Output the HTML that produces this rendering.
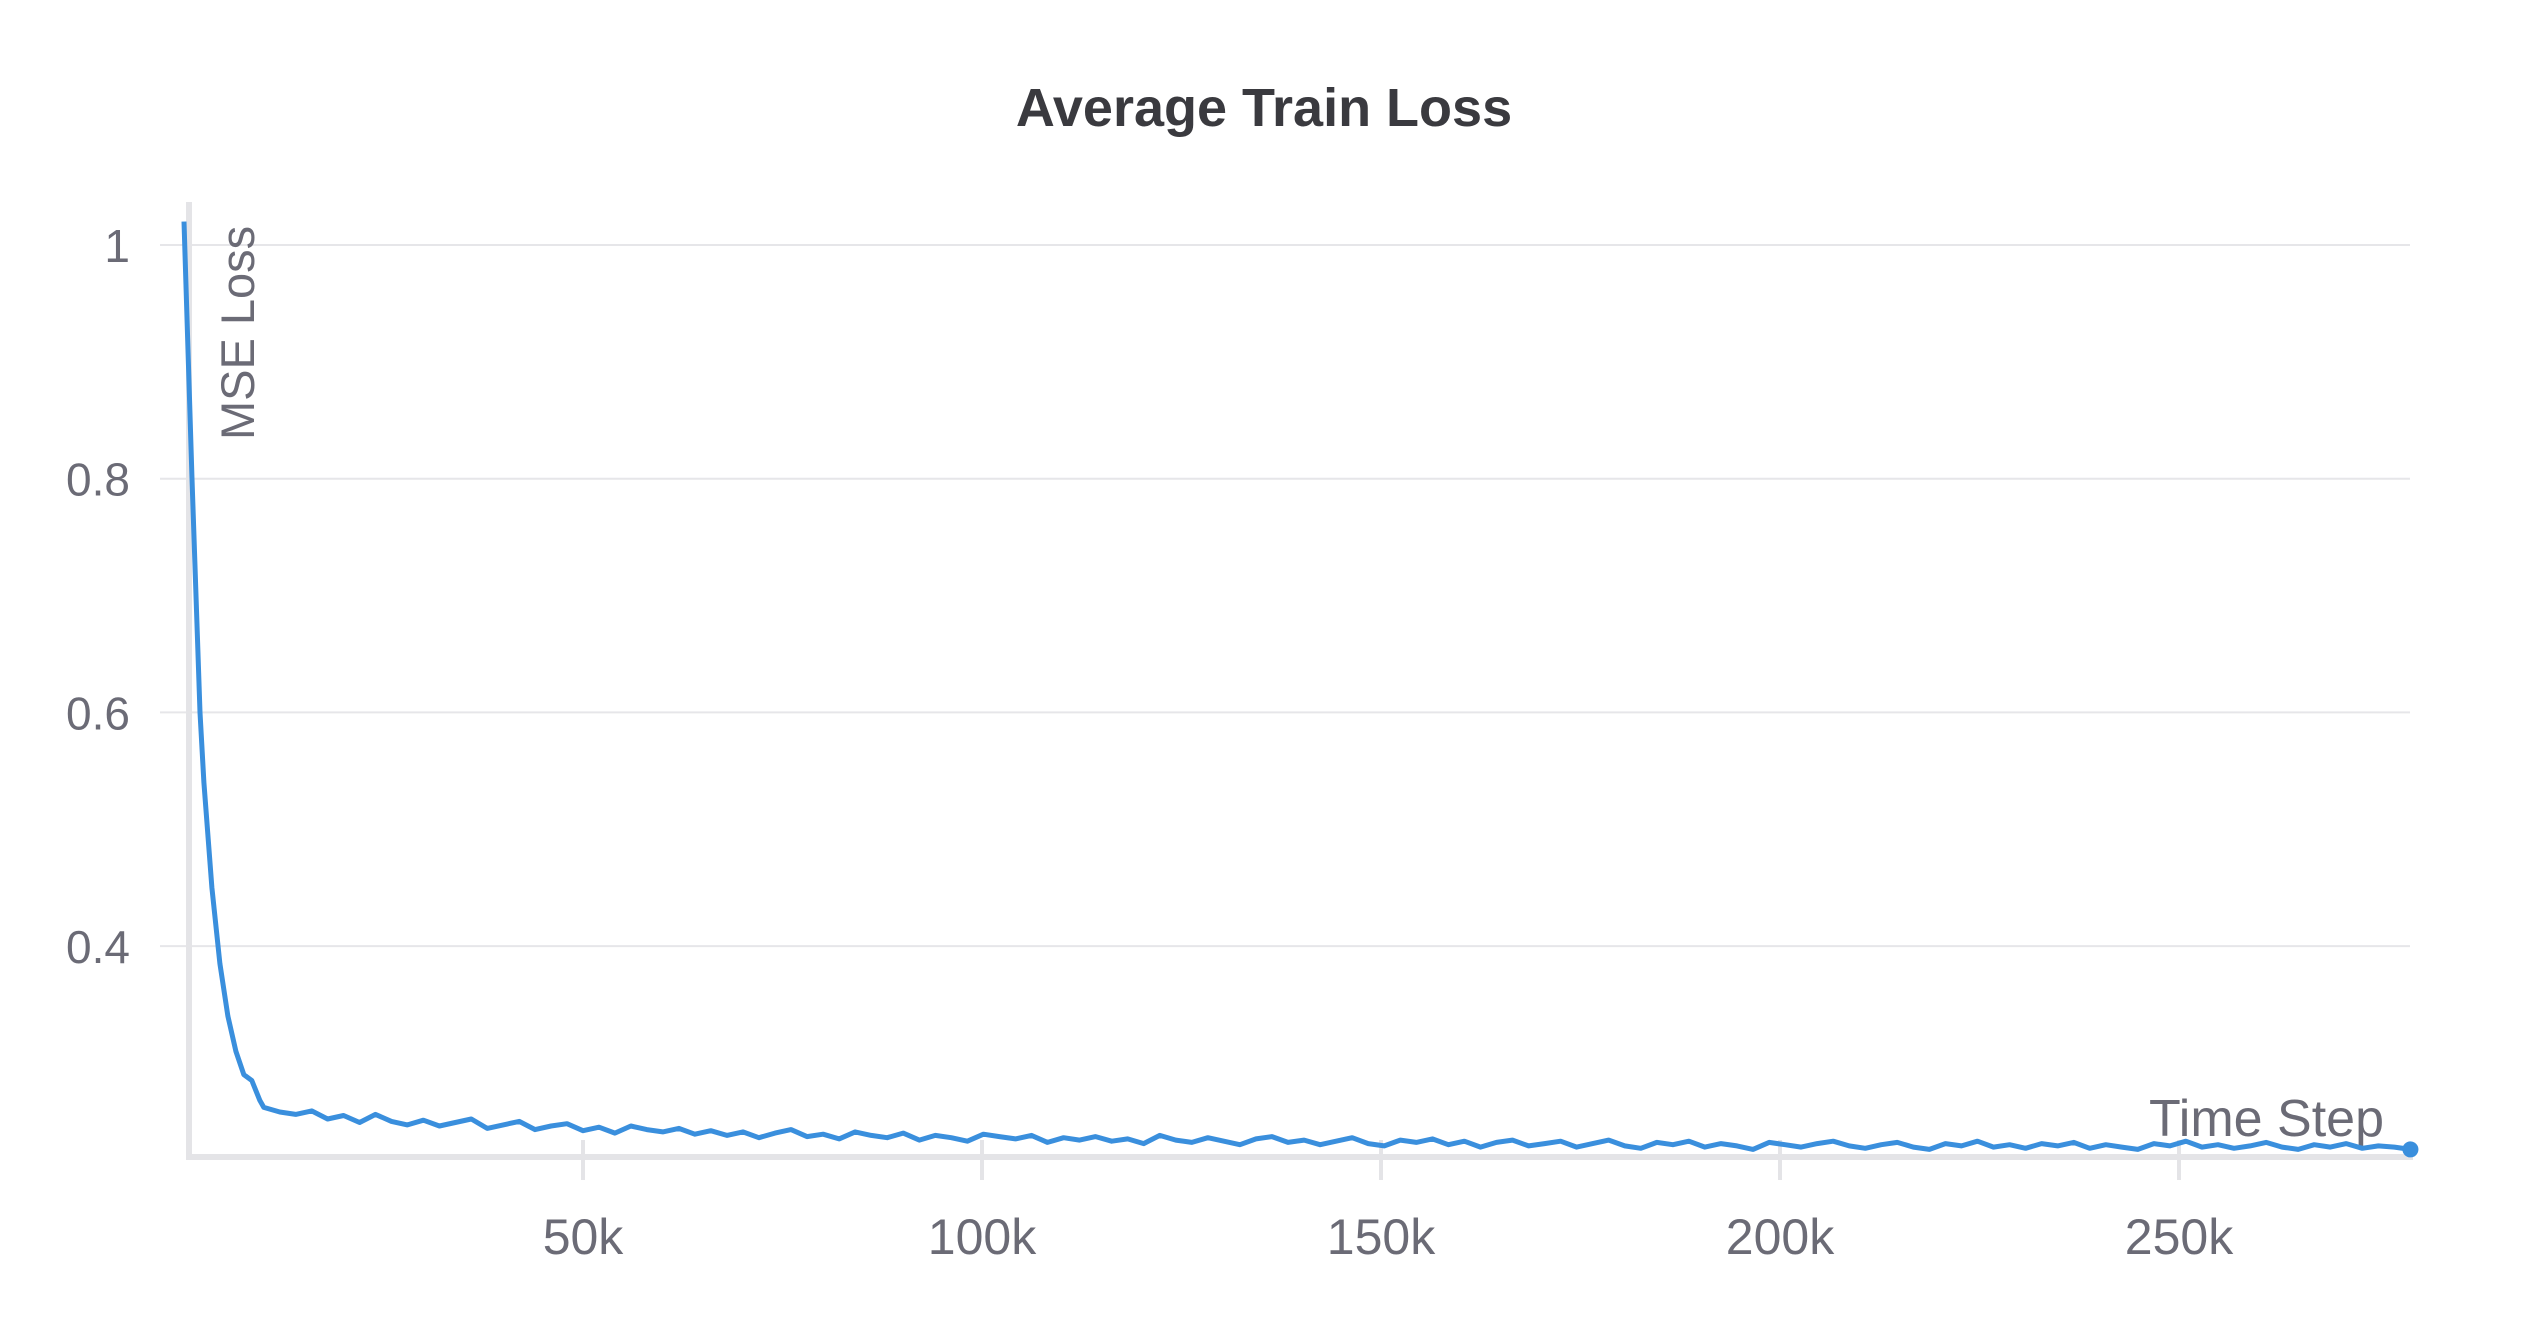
<!DOCTYPE html>
<html><head><meta charset="utf-8"><style>
html,body{margin:0;padding:0;background:#fff;}
svg{display:block;font-family:"Liberation Sans",sans-serif;}
</style></head><body>
<svg id="chart" width="2528" height="1328" viewBox="0 0 2528 1328">
<text x="1264" y="126" text-anchor="middle" font-size="54" font-weight="bold" fill="#3a3a3f">Average Train Loss</text>
<g id="grid"></g>
<g id="axes"></g>
<text transform="translate(254,440) rotate(-90)" font-size="47" fill="#6b6b76">MSE Loss</text>
<text x="2384" y="1136" text-anchor="end" font-size="52" fill="#6b6b76">Time Step</text>
<g id="series"></g>
</svg>
<script>
const yTicks=[1,0.8,0.6,0.4];
const yTickLabels=["1","0.8","0.6","0.4"];
const xTicks=[50000,100000,150000,200000,250000];
const xTickLabels=["50k","100k","150k","200k","250k"];
const earlySteps=[0,1000,2000,2500,3500,4500,5500,6500,7500,8500,9500];
const earlyLoss=[1.02,0.80,0.60,0.54,0.45,0.385,0.34,0.31,0.29,0.285,0.268];
const midStart=10000, midInterval=2000;
const midLoss=[.262,.258,.256,.259,.252,.255,.249,.256,.250,.247,.251,.246,.249,.252,.244,.247,.250,.243,.246,.248,.242,.245,.240,.246,.243,.241];
const lateStart=62000, lateEnd=279000;
const lateLoss=[.244,.239,.242,.238,.241,.236,.240,.243,.237,.239,.235,.241,.238,.236,.240,.234,.238,.236,.233,.239,.237,.235,.238,.232,.236,.234,.237,.233,.235,.231,.238,.234,.232,.236,.233,.230,.235,.237,.232,.234,.230,.233,.236,.231,.229,.234,.232,.235,.230,.233,.228,.232,.234,.229,.231,.233,.228,.231,.234,.229,.227,.232,.230,.233,.228,.231,.229,.226,.232,.230,.228,.231,.233,.229,.227,.230,.232,.228,.226,.231,.229,.233,.228,.230,.227,.231,.229,.232,.227,.230,.228,.226,.231,.229,.233,.228,.230,.227,.229,.232,.228,.226,.230,.228,.231,.227,.229,.228,.226];

const NS="http://www.w3.org/2000/svg";
const X0=184, PXPER=399/50000;
const xS=v=>X0+v*PXPER;
const yS=v=>245+(1-v)*1168.5;
function mk(tag,attrs,parent){const e=document.createElementNS(NS,tag);for(const k in attrs)e.setAttribute(k,attrs[k]);parent.appendChild(e);return e;}
const grid=document.getElementById('grid'),axes=document.getElementById('axes'),series=document.getElementById('series');
yTicks.forEach((t,i)=>{
  const l=mk('line',{x1:160,x2:2410,y1:yS(t),y2:yS(t),stroke:'#e6e6e9','stroke-width':2},grid);
  
  
  const tx=mk('text',{x:130,y:yS(t)+17,'text-anchor':'end','font-size':46,fill:'#6b6b76'},grid);
  
  
  tx.textContent=yTickLabels[i];
});
const ya=mk('line',{x1:189,x2:189,y1:202,y2:1160,stroke:'#e4e4e7','stroke-width':6},axes);


const xa=mk('line',{x1:186,x2:2413,y1:1157,y2:1157,stroke:'#e4e4e7','stroke-width':6},axes);


xTicks.forEach((t,i)=>{
  const l=mk('line',{x1:xS(t),x2:xS(t),y1:1140,y2:1180,stroke:'#e4e4e7','stroke-width':4},axes);
  
  
  const tx=mk('text',{x:xS(t),y:1254,'text-anchor':'middle','font-size':50,fill:'#6b6b76'},axes);
  
  
  tx.textContent=xTickLabels[i];
});
const pts=[];
earlySteps.forEach((s,i)=>pts.push([s,earlyLoss[i]]));
midLoss.forEach((v,i)=>pts.push([midStart+i*midInterval,v]));
lateLoss.forEach((v,i)=>pts.push([lateStart+i*(lateEnd-lateStart)/(lateLoss.length-1),v]));
const d=pts.map((p,i)=>(i?'L':'M')+xS(p[0]).toFixed(1)+','+yS(p[1]).toFixed(1)).join(' ');
const path=mk('path',{d:d,fill:'none',stroke:'#3a8fdd','stroke-width':5,'stroke-linejoin':'round'},series);


const last=pts[pts.length-1];
const dot=mk('circle',{cx:xS(last[0]),cy:yS(last[1]),r:8,fill:'#3a8fdd'},series);


</script>
</body></html>
